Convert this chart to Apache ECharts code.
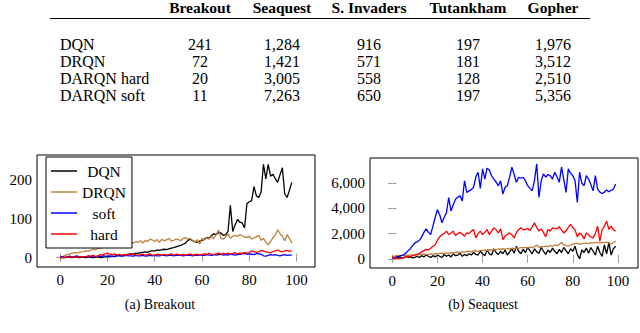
<!DOCTYPE html>
<html><head><meta charset="utf-8">
<script src="https://cdn.jsdelivr.net/npm/echarts@6/dist/echarts.min.js"></script>
<style>html,body{margin:0;padding:0;background:#fff}#c{width:640px;height:333px}</style>
</head><body><div id="c"></div>
<script>
// ---------- table ----------
const tableColumns = ['Breakout', 'Seaquest', 'S. Invaders', 'Tutankham', 'Gopher'];
const tableModels = ['DQN', 'DRQN', 'DARQN hard', 'DARQN soft'];
const rowDQN = [241, 1284, 916, 197, 1976];
const rowDRQN = [72, 1421, 571, 181, 3512];
const rowHard = [20, 3005, 558, 128, 2510];
const rowSoft = [11, 7263, 650, 197, 5356];
const tableRows = [rowDQN, rowDRQN, rowHard, rowSoft];

// ---------- charts ----------
const seriesNames = ['DQN', 'DRQN', 'soft', 'hard'];
const xTicks = [0, 20, 40, 60, 80, 100];
const breakoutYTicks = [0, 100, 200];
const seaquestYTicks = [0, 2000, 4000, 6000];
const captions = ['(a) Breakout', '(b) Seaquest'];

const breakoutDQN = [0,1,0,2,1,0,2,1,0,1, 1,0,2,1,0,1,2,0,1,2, 3,2,4,3,5,6,5,7,8,9,
  10,9,12,11,13,14,15,14,17,18, 18,20,19,21,22,21,23,25,26,28, 30,32,35,38,45,48,44,42,40,43,
  45,48,52,50,57,62,60,65,64,58, 60,68,136,68,85,99,92,90,77,140, 145,148,184,160,156,170,242,204,242,211,
  216,205,195,215,233,165,156,175,195];
const breakoutDRQN = [0,3,6,8,10,11,13,12,14,15, 16,18,17,20,22,21,24,25,27,28, 30,33,38,40,36,38,35,37,36,39,
  41,38,42,40,44,38,45,42,48,46, 42,47,40,48,44,46,50,43,45,48, 47,44,50,52,48,50,45,40,47,35,
  50,46,51,48,55,50,60,72,50,48, 54,62,50,56,58,55,60,57,54,52, 56,48,51,54,58,45,50,40,34,42,
  52,58,73,62,55,44,60,50,38];
const breakoutSoft = [2,3,1,2,4,2,3,5,2,3, 3,2,4,3,2,3,4,3,5,4, 4,5,3,4,6,5,4,5,6,5,
  5,4,6,5,5,6,4,5,6,5, 6,5,5,7,6,5,6,7,5,6, 6,7,5,6,7,6,5,7,6,7,
  7,6,8,7,6,8,7,8,9,7, 8,7,9,8,7,8,9,10,11,9, 10,9,8,11,10,9,5,4,6,8,
  7,8,6,5,7,8,6,7,7];
const breakoutHard = [0,1,0,2,1,3,2,1,2,3, 2,3,5,4,6,3,5,8,7,10, 12,9,8,10,7,9,6,8,7,9,
  8,10,7,6,8,9,7,8,10,6, 7,9,8,6,9,7,8,10,7,9, 8,6,9,7,8,10,6,8,9,7,
  8,10,9,11,9,8,10,12,9,11, 10,12,9,11,13,10,12,11,14,12, 13,18,16,14,15,19,17,15,14,13,
  16,18,20,17,15,18,19,17,18];

const seaquestDQN = [100,50,150,80,120,60,200,100,150,80, 120,200,100,250,150,300,200,100,250,150,
  300,200,100,350,200,300,150,400,250,300, 450,200,350,250,400,300,500,350,300,600,
  400,250,700,400,300,800,500,350,600,400, 700,300,550,800,450,1000,600,400,750,500,
  900,650,400,800,550,450,900,600,350,700, 500,850,600,400,750,500,900,650,400,800,
  600,1000,350,0,700,500,850,450,900,600, 300,1000,500,200,1100,400,1300,300,800,1000];
const seaquestDRQN = [200,220,250,260,240,280,300,280,320,300, 330,310,350,340,370,350,380,400,370,420,
  400,430,450,420,480,460,500,480,520,540, 500,560,530,580,600,560,620,640,600,680,
  650,700,680,720,700,750,720,780,760,800, 760,820,780,850,800,870,830,900,860,900,
  870,930,900,950,1100,920,980,950,1000,960, 1050,1000,1100,1050,1150,1300,1100,1050,1000,1100,
  1150,1200,1250,1150,1200,1220,1250,1200,1280,1250, 1300,1280,1250,1300,1280,1320,1250,1180,1300,1420];
const seaquestSoft = [100,80,150,200,280,320,450,650,800,1050, 1260,1350,1470,1740,2100,2380,2100,1930,2600,3300,
  3900,3500,2860,3300,3670,4870,3800,4300,4740,4900, 5000,4600,6200,5270,5400,5500,5670,6500,6880,5590,
  7150,6340,7200,7050,6600,6340,6100,5800,6200,5140, 5700,5810,6500,7280,6700,6080,6480,6400,6480,6200,
  5810,5600,5410,6210,7550,4870,6200,6750,6480,6700, 6610,6340,6880,6500,6080,7280,6300,5270,7150,6800,
  6610,6210,4470,6880,6000,5810,6610,6340,5900,5400, 6610,5540,5300,5190,5300,5460,5330,5450,5540,5940];
const seaquestHard = [150,100,20,0,50,100,150,200,180,250, 300,350,430,550,650,750,700,830,1000,1100,
  1500,1740,1930,2000,2200,1930,2050,2200,1850,2000, 2110,1950,1790,2060,2000,2200,2330,1660,2000,2200,
  1930,2100,2330,1930,2200,2460,2300,2060,2380,1530, 1800,1930,2060,1900,1660,2100,2330,2460,2300,2330,
  2400,2250,2540,2860,2500,2200,2380,2100,1740,2330, 2200,2460,2400,2380,2540,2300,2060,2200,2500,2730,
  2460,2300,1740,2060,1900,1580,2060,1900,1740,1660, 2000,2600,1390,2330,2600,3000,2330,2600,2300,2200];

const colors = { DQN: '#000000', DRQN: '#bf8040', soft: '#0000ff', hard: '#ff0000' };
const serif = 'Liberation Serif';
const fmt = v => v.toLocaleString('en-US');

const chart = echarts.init(document.getElementById('c'), null, { renderer: 'svg' });

function pairs(arr) { return arr.map((v, i) => [i, v]); }

const tickStyle = { show: true, inside: true, length: 4, lineStyle: { color: '#999', width: 1 } };

function xAxes(gi, min, max) {
  return [
    { gridIndex: gi, type: 'value', min, max, position: 'bottom',
      axisLine: { show: false }, splitLine: { show: false },
      axisTick: Object.assign({ customValues: xTicks }, tickStyle),
      axisLabel: { customValues: xTicks, fontFamily: serif, fontSize: 15, color: '#000', margin: 5 } },
    { gridIndex: gi, type: 'value', min, max, position: 'top',
      axisLine: { show: false }, splitLine: { show: false },
      axisTick: Object.assign({ customValues: xTicks }, tickStyle),
      axisLabel: { show: false } }
  ];
}
function yAxes(gi, min, max, ticks) {
  return [
    { gridIndex: gi, type: 'value', min, max, position: 'left',
      axisLine: { show: false }, splitLine: { show: false },
      axisTick: Object.assign({ customValues: ticks }, tickStyle),
      axisLabel: { customValues: ticks, formatter: v => fmt(v), fontFamily: serif, fontSize: 15, color: '#000', margin: 5 } },
    { gridIndex: gi, type: 'value', min, max, position: 'right',
      axisLine: { show: false }, splitLine: { show: false },
      axisTick: Object.assign({ customValues: ticks }, tickStyle),
      axisLabel: { show: false } }
  ];
}

function mkSeries(name, data, xi, yi) {
  return { name, type: 'line', data: pairs(data), xAxisIndex: xi, yAxisIndex: yi,
    symbol: 'none', showSymbol: false, smooth: false,
    lineStyle: { color: colors[name], width: 1.3 }, itemStyle: { color: colors[name] } };
}

function txt(text, x, y, size, align, weight) {
  return { type: 'text', x, y,
    style: { text, fontFamily: serif, fontSize: size, fontWeight: weight || 'normal', fill: '#000',
      align: align, verticalAlign: 'middle' } };
}

// table graphics
const colX = [200, 282, 369, 468, 553];
const rowY = [44, 61, 78, 95];
const graphics = [];
tableColumns.forEach((c, i) => graphics.push(txt(c, colX[i], 7, 15.5, 'center', 'bold')));
graphics.push({ type: 'line', shape: { x1: 50, y1: 18.5, x2: 590, y2: 18.5 }, style: { stroke: '#000', lineWidth: 1.2 } });
tableModels.forEach((m, r) => {
  graphics.push(txt(m, 60, rowY[r], 16, 'left'));
  tableRows[r].forEach((v, i) => graphics.push(txt(fmt(v), colX[i], rowY[r], 16, 'center')));
});
graphics.push(txt(captions[0], 160, 304, 14, 'center'));
graphics.push(txt(captions[1], 483, 304, 14, 'center'));

chart.setOption({
  animation: false,
  backgroundColor: '#fff',
  grid: [
    { left: 37, top: 155, width: 278, height: 112, show: true, borderColor: '#000', borderWidth: 1, backgroundColor: 'transparent' },
    { left: 370, top: 158, width: 268, height: 110, show: true, borderColor: '#000', borderWidth: 1, backgroundColor: 'transparent' }
  ],
  xAxis: [...xAxes(0, -9.8, 107.8), ...xAxes(1, -9.9, 108.9)],
  yAxis: [...yAxes(0, -24, 266, breakoutYTicks), ...yAxes(1, -730, 8010, seaquestYTicks)],
  legend: {
    data: seriesNames.map(n => ({ name: n, icon: 'path://M0,0 H26 V1.5 H0 Z' })),
    orient: 'vertical', left: 46, top: 157,
    backgroundColor: '#fff', borderColor: '#000', borderWidth: 1, borderRadius: 0,
    padding: [6, 6, 6, 5], itemWidth: 26, itemHeight: 14, itemGap: 5, itemTextGap: 2,
    formatter: '{c|{name}}',
    textStyle: { fontFamily: serif, fontSize: 15, color: '#000',
      rich: { c: { width: 44, align: 'center', fontFamily: serif, fontSize: 15.5, color: '#000' } } },
    selectedMode: false
  },
  graphic: graphics,
  series: [
    mkSeries('DQN', breakoutDQN, 0, 0),
    mkSeries('DRQN', breakoutDRQN, 0, 0),
    mkSeries('soft', breakoutSoft, 0, 0),
    mkSeries('hard', breakoutHard, 0, 0),
    mkSeries('DQN', seaquestDQN, 2, 2),
    mkSeries('DRQN', seaquestDRQN, 2, 2),
    mkSeries('soft', seaquestSoft, 2, 2),
    mkSeries('hard', seaquestHard, 2, 2)
  ]
});
</script></body></html>
